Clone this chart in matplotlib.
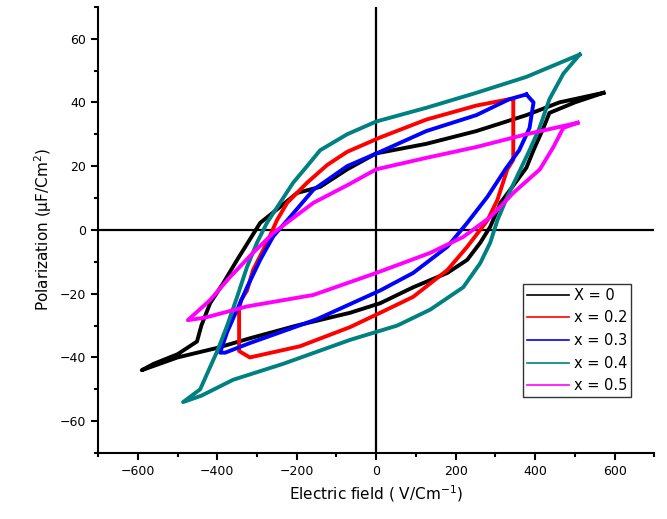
import matplotlib
matplotlib.use('Agg')
import matplotlib.pyplot as plt
from matplotlib.ticker import MultipleLocator

# P-E loops (field in V/cm, polarization in uC/cm2)
# each loop: upper branch from +Emax to -Emax, then lower branch back
e_x0 = [572, 461, 378, 252, 126, 0, -73, -141, -199, -242, -292, -318, -350, -385, -418, -440,
        -451, -500, -560, -590,
        -500, -400, -318, -200, -66, 10, 93, 179, 229, 262, 287, 313, 378, 396, 421, 436, 500, 572]
p_x0 = [43, 40, 36, 31, 27, 24, 19, 13.5, 11.6, 7.2, 2.2, -3, -9.4, -16.7, -23, -30,
        -35, -39, -42, -44,
        -40, -37, -34, -30, -26, -23, -18, -13.5, -9.4, -4, 1, 8.5, 19.5, 25, 32, 36.7, 40, 43]

e_x02 = [345, 335, 252, 126, 10, -73, -123, -174, -224, -250, -275, -310, -325, -340, -345, -345,
         -318, -192, -66, 10, 93, 179, 229, 280, 305, 330, 345, 345]
p_x02 = [41, 41, 39, 34.6, 29, 24.5, 20.4, 14.8, 8.5, 3, -4, -12.6, -19, -22, -25, -38,
         -40, -36.5, -30.5, -26, -21, -12.6, -5.3, 3, 9.4, 19, 22, 41]

e_x03 = [378, 335, 252, 126, 10, -73, -158, -217, -259, -292, -325, -350, -375, -393,
         -380, -318, -149, 10, 93, 179, 229, 280, 325, 360, 386, 396, 378]
p_x03 = [42.5, 41, 36, 31, 24.5, 20, 12.6, 4, -2, -9.4, -18, -25, -32, -38.5,
         -38.5, -35.5, -28, -19, -13.5, -5.3, 2.2, 10.4, 19, 25, 32, 40, 42.5]

e_x04 = [512, 378, 252, 126, 0, -73, -141, -174, -209, -242, -275, -300, -325, -350, -375, -400,
         -443, -486,
         -440, -360, -234, -66, 53, 136, 219, 262, 287, 305, 330, 363, 386, 411, 436, 471, 512]
p_x04 = [55, 48, 43, 38.3, 34, 30, 25, 20, 14.8, 8.5, 2.2, -4, -11.6, -21, -30, -38,
         -50, -54,
         -52, -47, -42, -34.5, -30, -25, -18, -10.4, -4, 3, 10.4, 19, 25, 32, 41, 49, 55]

e_x05 = [507, 378, 252, 126, 0, -73, -158, -217, -259, -310, -368, -418, -474,
         -430, -325, -158, 0, 136, 219, 287, 345, 412, 446, 471, 507]
p_x05 = [33.6, 30, 26, 22.6, 19, 14, 8.5, 3, -1, -7.2, -14.8, -22, -28.3,
         -27.5, -24, -20.4, -13.5, -7.2, -2.2, 4, 11.6, 19, 26, 32, 33.6]

labels = ['X = 0', 'x = 0.2', 'x = 0.3', 'x = 0.4', 'x = 0.5']
colors = ['#000000', '#ff0000', '#0000ff', '#008080', '#ff00ff']
loops = [(e_x0, p_x0), (e_x02, p_x02), (e_x03, p_x03), (e_x04, p_x04), (e_x05, p_x05)]

fig = plt.figure(figsize=(6.67, 5.19), dpi=100)
ax = fig.add_axes([0.147, 0.127, 0.834, 0.86])

for (e, p), c, lab in zip(loops, colors, labels):
    ax.plot(e, p, color=c, lw=2.8, label=lab, solid_joinstyle='round')

ax.axhline(0, color='black', lw=1.6, zorder=0)
ax.axvline(0, color='black', lw=1.6, zorder=0)

ax.set_xlim(-700, 700)
ax.set_ylim(-70, 70)
ax.xaxis.set_major_locator(MultipleLocator(200))
ax.xaxis.set_minor_locator(MultipleLocator(100))
ax.yaxis.set_major_locator(MultipleLocator(20))
ax.yaxis.set_minor_locator(MultipleLocator(10))
ax.tick_params(which='major', direction='out', length=5, width=1.5, labelsize=9)
ax.tick_params(which='minor', direction='out', length=3, width=1.5)
for s in ['top', 'right']:
    ax.spines[s].set_visible(False)
for s in ['left', 'bottom']:
    ax.spines[s].set_linewidth(1.5)

ax.set_xlabel('Electric field ( V/Cm$^{-1}$)', fontsize=11)
ax.set_ylabel('Polarization ($\\mathregular{\\mu}$F/Cm$^{2}$)', fontsize=11)

leg = ax.legend(loc='lower left', bbox_to_anchor=(0.764, 0.126), fontsize=10.5,
                frameon=True, fancybox=False, edgecolor='black', handlelength=2.9,
                handletextpad=0.35, borderpad=0.25, labelspacing=0.52, borderaxespad=0)
leg.get_frame().set_linewidth(1.0)
for h in leg.get_lines():
    h.set_linewidth(1.2)

fig.savefig('out.png', dpi=100)
